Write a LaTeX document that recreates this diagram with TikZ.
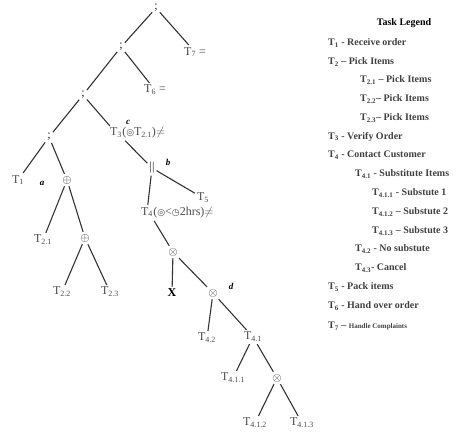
\documentclass[tikz,border=0pt]{standalone}
\usepackage{fontspec}
\setmainfont{Liberation Serif}
\newfontfamily\symfont{DejaVu Sans}
\newcommand{\Ts}[1]{T\textsubscript{#1}}
\newcommand{\sym}[1]{{\symfont\fontsize{9}{10}\selectfont #1}}
\begin{document}
\begin{tikzpicture}[x=1pt,y=-1pt,
  op/.style={font=\fontsize{12}{14}\selectfont, inner sep=2pt, text=black!85},
  lbl/.style={font=\fontsize{12}{14}\selectfont, inner sep=2pt, text=black!70},
  tag/.style={font=\fontsize{9}{10}\selectfont\bfseries\itshape, inner sep=0pt},
  leg/.style={anchor=west, font=\fontsize{10}{12}\selectfont\bfseries, inner sep=0pt, text=black!75},
  edge/.style={draw=black!80, line width=1.1pt}]
\useasboundingbox (0,0) rectangle (465,432);
% tree nodes
\node[op] (root) at (156,8) {;};
\node[op] (s2) at (121,47) {;};
\node[lbl] (t7) at (195,52) {\Ts{7} =};
\node[op] (s3) at (83,95) {;};
\node[lbl] (t6) at (155,90) {\Ts{6} =};
\node[op] (s4) at (49,137) {;};
\node[lbl] (t3) at (116,133) {\Ts{3}};
\node[lbl, anchor=base west, inner sep=0pt] (t3r) at ([xshift=-2pt]t3.base east) {(\sym{◎}\Ts{2.1})$\neq$};
\node[tag] (c) at (128,122) {c};
\node[op] (par) at (152,168) {||};
\node[tag] (b) at (168,162) {b};
\node[lbl] (t1) at (18,180) {\Ts{1}};
\node[tag] (a) at (42,183) {a};
\node[op] (op1) at (67,180) {$\oplus$};
\node[lbl] (t5) at (203,198) {\Ts{5}};
\node[lbl] (t4) at (147,212) {\Ts{4}};
\node[lbl, anchor=base west, inner sep=0pt] (t4r) at ([xshift=-2pt]t4.base east) {(\sym{◎}<\sym{◷}2hrs)$\neq$};
\node[lbl] (t21) at (43,240) {\Ts{2.1}};
\node[op] (op2) at (85,238) {$\oplus$};
\node[lbl] (t22) at (62,292) {\Ts{2.2}};
\node[lbl] (t23) at (110,292) {\Ts{2.3}};
\node[op] (ot1) at (173,252) {$\otimes$};
\node[op, font=\fontsize{12}{14}\selectfont\bfseries, text=black] (x) at (172,293) {X};
\node[op] (ot2) at (213,293) {$\otimes$};
\node[tag] (d) at (231,286) {d};
\node[lbl] (t42) at (207,338) {\Ts{4.2}};
\node[lbl] (t41) at (253,337) {\Ts{4.1}};
\node[lbl] (t411) at (233,378) {\Ts{4.1.1}};
\node[op] (ot3) at (277,378) {$\otimes$};
\node[lbl] (t412) at (255,423) {\Ts{4.1.2}};
\node[lbl] (t413) at (302,423) {\Ts{4.1.3}};
% edges
\draw[edge] (root) -- (s2);
\draw[edge] (root) -- (t7);
\draw[edge] (s2) -- (s3);
\draw[edge] (s2) -- (t6);
\draw[edge] (s3) -- (s4);
\draw[edge] (s3) -- (t3);
\draw[edge] (s4) -- (t1);
\draw[edge] (s4) -- (op1);
\draw[edge] ([xshift=3pt,yshift=-2pt]t3r.south west) -- (par);
\draw[edge] (par) -- (t4);
\draw[edge] (par) -- (t5);
\draw[edge] (op1) -- (t21);
\draw[edge] (op1) -- (op2);
\draw[edge] (op2) -- (t22);
\draw[edge] (op2) -- (t23);
\draw[edge] ([xshift=1pt,yshift=-3pt]t4r.south west) -- (ot1);
\draw[edge] (ot1) -- (x);
\draw[edge] (ot1) -- (ot2);
\draw[edge] (ot2) -- (t42);
\draw[edge] (ot2) -- (t41);
\draw[edge] (t41) -- (t411);
\draw[edge] (t41) -- (ot3);
\draw[edge] (ot3) -- (t412);
\draw[edge] (ot3) -- (t413);
% legend
\node[font=\fontsize{10}{12}\selectfont\bfseries, inner sep=0pt] (title) at (404,23) {Task Legend};
\node[leg] (l1) at (328,43) {\Ts{1} - Receive order};
\node[leg] (l2) at (328,62) {\Ts{2} -- Pick Items};
\node[leg] (l21) at (360,80) {\Ts{2.1} -- Pick Items};
\node[leg] (l22) at (360,99) {\Ts{2.2}-- Pick Items};
\node[leg] (l23) at (360,118) {\Ts{2.3}-- Pick Items};
\node[leg] (l3) at (328,137) {\Ts{3} - Verify Order};
\node[leg] (l4) at (328,155) {\Ts{4} - Contact Customer};
\node[leg] (l41) at (355,174) {\Ts{4.1} - Substitute Items};
\node[leg] (l411) at (372,193) {\Ts{4.1.1} - Substute 1};
\node[leg] (l412) at (372,212) {\Ts{4.1.2} -- Substute 2};
\node[leg] (l413) at (372,231) {\Ts{4.1.3} -- Substute 3};
\node[leg] (l42) at (355,249) {\Ts{4.2} - No substute};
\node[leg] (l43) at (355,268) {\Ts{4.3}- Cancel};
\node[leg] (l5) at (328,287) {\Ts{5} - Pack items};
\node[leg] (l6) at (328,306) {\Ts{6} - Hand over order};
\node[leg] (l7) at (328,326) {\Ts{7} -- {\fontsize{7}{8}\selectfont Handle Complaints}};
\end{tikzpicture}
\end{document}
